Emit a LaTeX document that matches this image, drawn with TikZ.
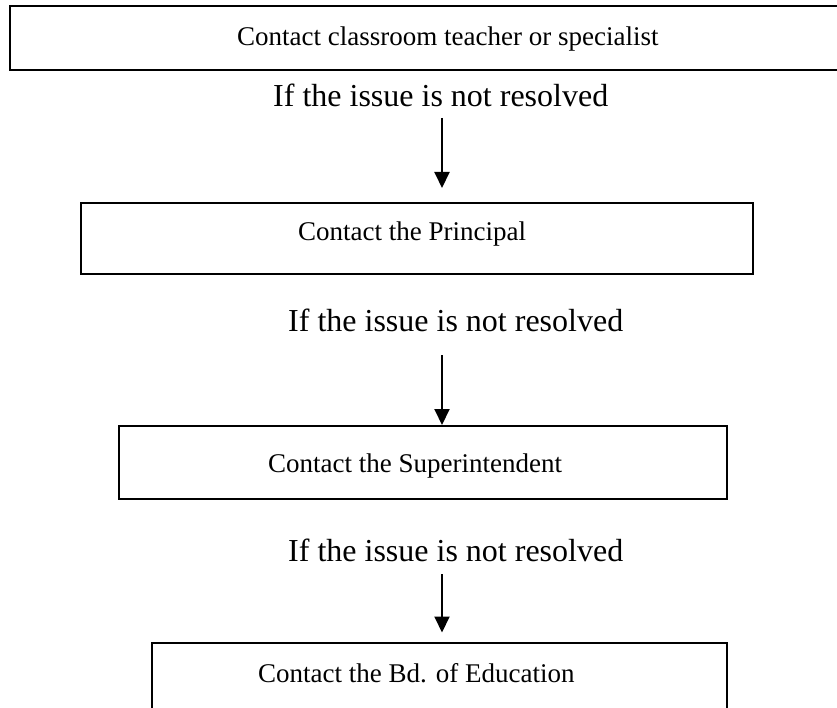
\documentclass[tikz,border=0pt]{standalone}
\usepackage{fontspec}
\setmainfont{Liberation Serif}
\usetikzlibrary{arrows.meta}

\tikzset{
  stepbox/.style={draw, line width=2pt, inner sep=0pt},
  boxtext/.style={anchor=base west, inner sep=0pt, font=\fontsize{27}{32}\selectfont},
  ifnot/.style={anchor=base west, inner sep=0pt, font=\fontsize{32}{38}\selectfont},
  flow/.style={-{Triangle[width=15pt,length=16pt]}, line width=2pt}
}

\begin{document}
\begin{tikzpicture}[x=1pt, y=-1pt]
\useasboundingbox (0,0) rectangle (837,708);

% Boxes
\node[stepbox, minimum width=840pt, minimum height=64pt] (b1) at (430,38) {};
\node[stepbox, minimum width=672pt, minimum height=71pt] (b2) at (417,238.5) {};
\node[stepbox, minimum width=608pt, minimum height=73pt] (b3) at (423,462.5) {};
\node[stepbox, minimum width=575pt, minimum height=77pt] (b4) at (439.5,681) {};

% Box texts
\node[boxtext] (t1) at (237,46) {Contact classroom teacher or specialist};
\node[boxtext] (t2) at (298,241) {Contact the Principal};
\node[boxtext] (t3) at (268,472) {Contact the Superintendent};
\node[boxtext] (t4) at (258,682) {Contact the Bd. of Education};

% If not resolved
\node[ifnot] (q1) at (273,107) {If the issue is not resolved};
\node[ifnot] (q2) at (288,331) {If the issue is not resolved};
\node[ifnot] (q3) at (288,561) {If the issue is not resolved};

% Arrows
\coordinate (s1) at (442,118);
\coordinate (s2) at (442,355);
\coordinate (s3) at (442,574);
\draw[flow, shorten >=14pt] (s1) -- (s1 |- b2.north);
\draw[flow] (s2) -- (s2 |- b3.north);
\draw[flow, shorten >=9pt] (s3) -- (s3 |- b4.north);

\end{tikzpicture}
\end{document}
